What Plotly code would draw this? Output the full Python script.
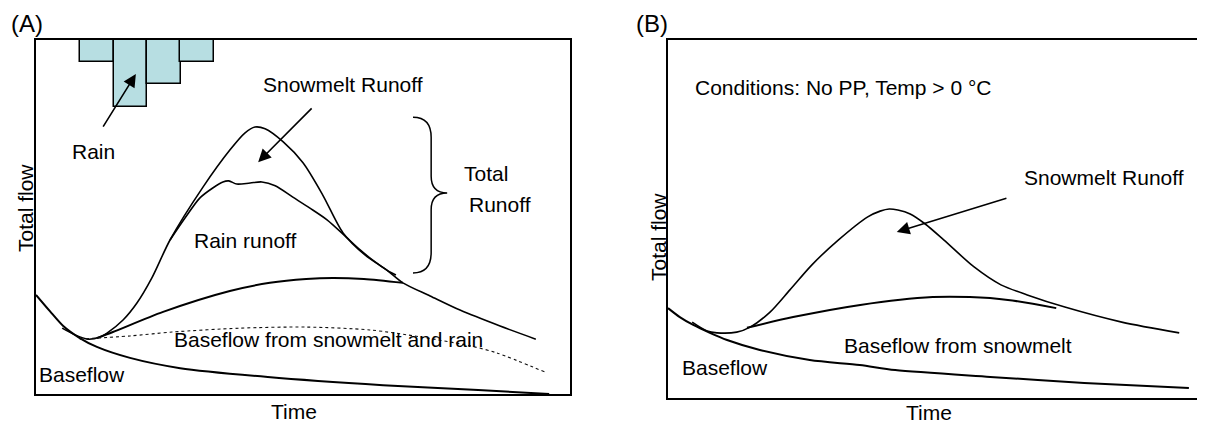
import plotly.graph_objects as go

# The page body has an 8px default margin, so the figure is placed at (8, 8) in the window.
OFF = 8
W, H = 1205 - OFF, 426 - OFF

# ---------------- Panel A data (time 0-100, flow 0-100 schematic units) ----------------
a_base_t = [0, 2.6, 5.1, 8.2, 11.4, 17.6, 27.0, 43.4, 65.0, 82.8, 96.1]
a_base_q = [28.0, 23.4, 19.2, 15.8, 13.3, 10.2, 7.3, 4.8, 2.5, 1.1, 0.0]

a_total_t = [4.9, 7.3, 9.7, 12.0, 13.3, 16.3, 18.9, 21.7, 25.1, 31.3, 36.3, 39.1, 41.0, 42.9,
             46.3, 50.0, 53.7, 57.5, 61.6, 65.7, 68.7, 73.8, 79.4, 86.9, 93.6]
a_total_q = [18.6, 16.7, 15.5, 16.1, 17.2, 20.9, 25.7, 32.8, 43.5, 58.5, 68.9, 73.7, 75.4, 74.9,
             71.2, 65.3, 56.2, 45.5, 39.3, 35.0, 31.4, 27.7, 23.7, 19.2, 15.5]

a_rain_t = [25.1, 27.9, 30.7, 33.1, 35.0, 36.1, 37.6, 40.1, 42.3, 44.8, 48.1, 51.3,
            54.5, 57.9, 60.7, 63.5, 65.7, 67.4]
a_rain_q = [43.5, 49.7, 55.4, 58.2, 59.9, 60.2, 59.3, 59.6, 59.9, 58.8, 55.6, 52.5,
            49.2, 44.6, 40.7, 37.3, 35.0, 33.6]

a_snowbase_t = [11.4, 14.4, 23.8, 36.3, 43.8, 50.6, 55.6, 61.4, 68.7]
a_snowbase_q = [15.8, 17.5, 23.2, 29.1, 31.4, 32.5, 32.8, 32.5, 31.4]

a_dotted_t = [8.2, 17.6, 25.5, 38.2, 50.6, 62.5, 72.1, 81.3, 86.3, 95.3]
a_dotted_q = [15.5, 16.4, 17.5, 18.6, 18.9, 18.1, 16.1, 13.6, 11.6, 6.2]

rain_t = [11.4, 17.7, 24.0, 30.2]
rain_depth = [6.2, 18.9, 12.4, 6.2]

# ---------------- Panel B data ----------------
b_base_t = [0, 2.2, 4.7, 7.8, 11.0, 17.1, 26.4, 35.7, 42.3, 60.0, 77.5, 97.0]
b_base_q = [25.1, 22.6, 20.4, 18.2, 16.2, 13.4, 10.6, 9.2, 7.8, 5.9, 4.2, 2.8]

b_total_t = [4.5, 7.3, 9.1, 12.8, 15.3, 19.0, 22.7, 26.8, 31.7, 37.2, 39.5, 41.2, 42.8, 45.1,
             47.9, 51.4, 57.0, 62.0, 66.9, 73.9, 84.5, 95.2]
b_total_q = [21.2, 18.7, 18.2, 18.4, 19.8, 24.0, 30.2, 37.2, 44.1, 50.6, 52.2, 52.8, 52.5, 51.4,
             48.6, 44.1, 36.6, 31.6, 28.8, 25.4, 21.2, 18.2]

b_snowbase_t = [14.7, 23.3, 35.8, 49.3, 56.2, 63.3, 72.3]
b_snowbase_q = [19.6, 22.6, 26.0, 28.2, 28.2, 27.4, 25.1]

FONT = "Liberation Sans, Arial, sans-serif"
FS = 21


def px(x):
    return (x - OFF) / W


def py(y):
    return 1 - (y - OFF) / H


fig = go.Figure()

thin = dict(color="black", width=1.6, shape="spline", smoothing=0.8)
thick = dict(color="black", width=2, shape="spline", smoothing=0.8)

# Panel A
fig.add_trace(go.Bar(x=rain_t, y=[-d for d in rain_depth], base=100, width=6.3,
                     marker=dict(color="#B7DEE2", line=dict(color="black", width=1.5)),
                     xaxis="x", yaxis="y", showlegend=False))
fig.add_trace(go.Scatter(x=a_base_t, y=a_base_q, mode="lines", line=thick,
                         xaxis="x", yaxis="y", showlegend=False))
fig.add_trace(go.Scatter(x=a_total_t, y=a_total_q, mode="lines", line=thin,
                         xaxis="x", yaxis="y", showlegend=False))
fig.add_trace(go.Scatter(x=a_rain_t, y=a_rain_q, mode="lines", line=thin,
                         xaxis="x", yaxis="y", showlegend=False))
fig.add_trace(go.Scatter(x=a_snowbase_t, y=a_snowbase_q, mode="lines", line=thick,
                         xaxis="x", yaxis="y", showlegend=False))
fig.add_trace(go.Scatter(x=a_dotted_t, y=a_dotted_q, mode="lines",
                         line=dict(color="#111111", width=1.1, dash="dot", shape="spline", smoothing=0.8),
                         xaxis="x", yaxis="y", showlegend=False))

# Panel B
fig.add_trace(go.Scatter(x=b_base_t, y=b_base_q, mode="lines", line=thick,
                         xaxis="x2", yaxis="y2", showlegend=False))
fig.add_trace(go.Scatter(x=b_total_t, y=b_total_q, mode="lines", line=thin,
                         xaxis="x2", yaxis="y2", showlegend=False))
fig.add_trace(go.Scatter(x=b_snowbase_t, y=b_snowbase_q, mode="lines", line=thick,
                         xaxis="x2", yaxis="y2", showlegend=False))

ax_common = dict(range=[0, 100], showticklabels=False, showgrid=False, zeroline=False,
                 ticks="", showline=True, linecolor="black", linewidth=2, fixedrange=True)

fig.update_layout(
    width=W, height=H, margin=dict(l=0, r=0, t=0, b=0),
    paper_bgcolor="white", plot_bgcolor="white",
    font=dict(family=FONT, size=FS, color="black"),
    bargap=0,
    xaxis=dict(domain=[px(36), px(570)], anchor="y", mirror=True, **ax_common),
    yaxis=dict(domain=[py(394), py(40)], anchor="x", mirror=True, **ax_common),
    xaxis2=dict(domain=[px(668), 1.0], anchor="y2", mirror=True, **ax_common),
    yaxis2=dict(domain=[py(398), py(40)], anchor="x2", mirror=False, **ax_common),
)

# Brace for "Total Runoff"
fig.add_shape(type="path", xref="x", yref="y",
              path="M 70.6,78.2 Q 74.0,78.2 74.0,72.5 L 74.0,61.5 Q 74.0,56.8 77.0,56.8 "
                   "Q 74.0,56.8 74.0,52.1 L 74.0,40.0 Q 74.0,34.2 70.6,34.2",
              line=dict(color="black", width=1.5))


def txt(text, x, y, xref, yref, xanchor="center", angle=0, size=FS):
    fig.add_annotation(text=text, x=x, y=y, xref=xref, yref=yref, showarrow=False,
                       xanchor=xanchor, yanchor="middle", textangle=angle,
                       font=dict(family=FONT, size=size, color="black"))


def arrow(x, y, ax, ay, xref, yref):
    fig.add_annotation(text="", x=x, y=y, ax=ax, ay=ay, xref=xref, yref=yref,
                       axref=xref, ayref=yref, showarrow=True, arrowhead=2,
                       arrowsize=1.6, arrowwidth=1.6, arrowcolor="black")


# Panel A texts
txt("(A)", px(27), py(24), "paper", "paper", size=24)
txt("Rain", 10.7, 68.4, "x", "y")
txt("Snowmelt Runoff", 57.4, 87.3, "x", "y")
txt("Rain runoff", 39.3, 43.5, "x", "y")
txt("Total", 79.8, 62.4, "x", "y", xanchor="left")
txt("Runoff", 80.7, 53.4, "x", "y", xanchor="left")
txt("Baseflow from snowmelt and rain", 54.7, 15.3, "x", "y")
txt("Baseflow", 8.6, 5.4, "x", "y")
txt("Time", px(294), py(411), "paper", "paper")
txt("Total flow", px(25), py(208), "paper", "paper", angle=-90)
arrow(18.7, 90.4, 12.4, 75.1, "x", "y")
arrow(41.6, 65.5, 51.9, 81.1, "x", "y")

# Panel B texts
txt("(B)", px(652), py(24), "paper", "paper", size=24)
txt("Conditions: No PP, Temp > 0 °C", 4.7, 86.6, "x2", "y2", xanchor="left")
txt("Snowmelt Runoff", 81.2, 61.7, "x2", "y2")
txt("Baseflow from snowmelt", 54.0, 14.8, "x2", "y2")
txt("Baseflow", 10.6, 8.4, "x2", "y2")
txt("Time", px(929), py(412), "paper", "paper")
txt("Total flow", px(658), py(237), "paper", "paper", angle=-90)
arrow(42.6, 46.4, 63.3, 55.9, "x2", "y2")

fig.write_html("out.html")
